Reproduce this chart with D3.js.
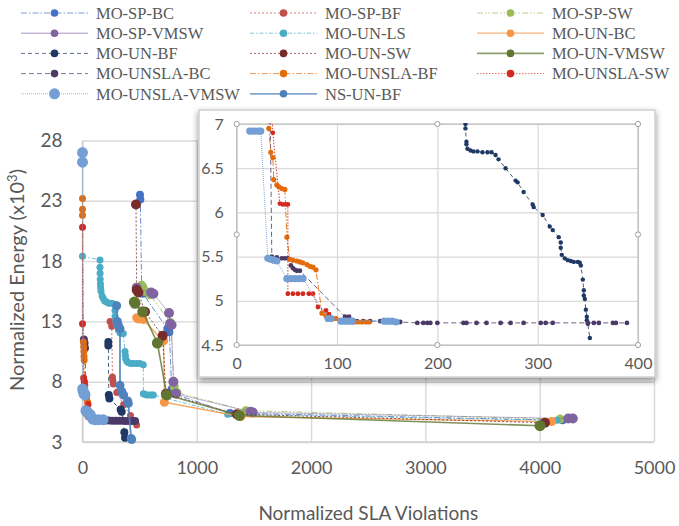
<!DOCTYPE html>
<html>
<head>
<meta charset="utf-8">
<script src="https://cdn.jsdelivr.net/npm/d3@7"></script>
<style>
  body { margin: 0; background: #fff; }
  svg { display: block; }
</style>
</head>
<body>
<svg id="chart" width="679" height="526"></svg>
<script>
// ---------- data: [normalized SLA violations, normalized energy (x10^3)] ----------
const seriesNames = [
  "MO-SP-BC", "MO-SP-BF", "MO-SP-SW",
  "MO-SP-VMSW", "MO-UN-LS", "MO-UN-BC",
  "MO-UN-BF", "MO-UN-SW", "MO-UN-VMSW",
  "MO-UNSLA-BC", "MO-UNSLA-BF", "MO-UNSLA-SW",
  "MO-UNSLA-VMSW", "NS-UN-BF"
];

const MO_SP_BC = [[503,23.5],[506,23.1],[518,15.6],[528,15.3],[742,12.4],[760,12.1],[780,7.4],[800,7.0],[1290,5.4],[4200,4.8]];
const MO_SP_BF = [[241,13.0],[256,12.6],[262,8.4],[265,8.1],[270,7.8],[300,7.1],[360,6.1],[420,5.2],[474,4.4]];
const MO_SP_SW = [[518,16.0],[530,15.8],[547,15.5],[590,15.2],[770,12.9],[803,7.6],[825,7.1],[1430,5.6],[4178,4.9]];
const MO_SP_VMSW = [[474,15.8],[600,15.4],[620,15.3],[757,13.7],[766,12.8],[779,12.7],[795,8.0],[818,7.0],[1470,5.5],[1490,5.45],[4250,4.95],[4290,4.95]];
const MO_UN_LS = [[0,18.4],[153,18.1],[153,17.5],[154,17.0],[155,16.5],[157,16.1],[159,15.8],[162,15.5],[172,15.1],[182,14.9],[195,14.7],[211,14.6],[230,14.5],[255,14.5],[275,14.45],[285,14.4],[284,13.9],[285,13.4],[292,13.0],[299,12.7],[313,12.3],[328,12.05],[345,12.0],[357,12.0],[372,10.5],[375,10.2],[378,9.9],[388,9.7],[400,9.6],[420,9.5],[445,9.5],[475,9.5],[503,9.5],[532,9.4],[532,7.0],[545,6.95],[560,6.9],[585,6.9],[605,6.9],[620,6.9],[1270,5.3],[4150,4.8]];
const MO_UN_BC = [[474,13.3],[490,13.2],[532,13.15],[693,11.5],[710,11.4],[716,6.3],[1385,5.1],[4105,4.7]];
const MO_UN_BF = [[226,11.3],[226,11.0],[230,6.9],[235,6.6],[334,5.7],[343,5.5],[366,3.8],[372,3.35]];
const MO_UN_SW = [[468,22.7],[474,15.6],[489,15.4],[547,13.8],[701,11.8],[730,7.0],[1350,5.3],[4046,4.6]];
const MO_UN_VMSW = [[454,14.6],[460,14.5],[527,13.8],[655,11.2],[737,6.9],[1372,5.2],[4003,4.35]];
const MO_UNSLA_BC = [[12,11.5],[18,11.2],[22,10.8],[35,5.5],[60,5.4],[110,4.82],[180,4.8],[200,4.78],[230,4.78],[260,4.77],[290,4.77],[320,4.76],[350,4.76],[380,4.75],[410,4.75],[435,4.75],[460,4.75]];
const MO_UNSLA_BF = [[0,23.2],[0,22.3],[0,21.8],[8,11.3],[10,10.9],[12,10.5],[13,10.1],[15,9.8],[18,8.0],[25,7.0],[35,6.6],[45,6.3],[55,5.5],[80,5.35],[90,4.8],[130,4.75]];
const MO_UNSLA_SW = [[0,20.8],[0,12.8],[10,8.3],[15,8.0],[20,7.7],[35,7.0],[48,6.1],[52,5.1],[80,5.08],[95,4.85]];
const MO_UNSLA_VMSW = [[0,27.0],[0,26.2],[2,7.4],[6,7.2],[12,7.0],[22,6.9],[30,5.6],[38,5.5],[45,5.45],[55,5.3],[68,5.25],[90,4.9],[110,4.85],[140,4.85],[180,4.85]];
const NS_UN_BF = [[299,14.3],[305,13.0],[313,12.7],[328,12.4],[328,7.7],[343,7.2],[360,6.9],[395,6.4],[401,6.2],[425,3.3],[430,3.2]];

const seriesValues = [
  MO_SP_BC, MO_SP_BF, MO_SP_SW,
  MO_SP_VMSW, MO_UN_LS, MO_UN_BC,
  MO_UN_BF, MO_UN_SW, MO_UN_VMSW,
  MO_UNSLA_BC, MO_UNSLA_BF, MO_UNSLA_SW,
  MO_UNSLA_VMSW, NS_UN_BF
];

// close-up of the low-violation front (0-400, 4.5-7)
const insetNames = ["MO-UN-BF", "MO-UNSLA-BC", "MO-UNSLA-BF", "MO-UNSLA-SW", "MO-UNSLA-VMSW"];
const INSET_UN_BF = [[228,7.3],[228,7.0],[228,6.95],[229,6.8],[229,6.77],[230,6.72],[233,6.7],[236,6.69],[240,6.69],[245,6.68],[250,6.68],[254,6.68],[258,6.65],[261,6.6],[268,6.5],[278,6.36],[280,6.34],[286,6.23],[295,6.09],[296,6.06],[305,5.97],[312,5.84],[315,5.8],[321,5.72],[323,5.66],[323,5.6],[324,5.52],[327,5.48],[330,5.46],[333,5.45],[336,5.44],[340,5.44],[342,5.43],[343,5.4],[345,5.24],[346,5.12],[346,5.06],[347,5.02],[348,4.9],[349,4.82],[349,4.78],[350,4.74],[352,4.58]];
const INSET_UNSLA_BC = [[33,7.5],[35,5.5],[40,5.49],[45,5.48],[48,5.48],[51,5.48],[54,5.4],[56,5.37],[58,5.35],[60,5.34],[63,5.34],[108,4.82],[112,4.82],[116,4.78],[120,4.77],[126,4.77],[133,4.77],[143,4.77],[163,4.76],[180,4.75],[186,4.75],[190,4.75],[193,4.75],[200,4.75],[226,4.75],[229,4.75],[239,4.75],[249,4.75],[263,4.75],[273,4.75],[286,4.75],[303,4.75],[308,4.75],[315,4.75],[350,4.75],[356,4.75],[361,4.75],[375,4.75],[378,4.75],[389,4.75]];
const INSET_UNSLA_BF = [[32,7.5],[32,6.95],[34,6.68],[36,6.62],[37,6.37],[40,6.31],[42,6.29],[45,6.27],[48,6.26],[50,5.72],[53,5.47],[56,5.46],[60,5.45],[63,5.44],[66,5.43],[70,5.41],[73,5.39],[76,5.38],[79,5.35],[85,4.86],[89,4.83],[92,4.8],[96,4.8],[99,4.8],[117,4.76],[121,4.76],[125,4.76],[129,4.76],[132,4.76]];
const INSET_UNSLA_SW = [[34,7.5],[36,6.9],[43,6.1],[46,6.09],[49,6.09],[51,6.09],[51,5.08],[56,5.08],[61,5.08],[66,5.08],[72,5.08],[76,5.08],[81,4.93],[89,4.89],[92,4.85]];
const INSET_UNSLA_VMSW = [[13,6.92],[16,6.92],[19,6.92],[22,6.92],[24,6.92],[31,5.48],[34,5.47],[37,5.46],[40,5.45],[50,5.25],[54,5.25],[58,5.25],[62,5.25],[66,5.25],[91,4.8],[94,4.8],[104,4.77],[108,4.77],[112,4.77],[115,4.77],[147,4.77],[151,4.77],[155,4.77],[159,4.76]];
const insetValues = [INSET_UN_BF, INSET_UNSLA_BC, INSET_UNSLA_BF, INSET_UNSLA_SW, INSET_UNSLA_VMSW];

const xTicks = [0, 1000, 2000, 3000, 4000, 5000];
const yTicks = [3, 8, 13, 18, 23, 28];
const insetXTicks = [0, 100, 200, 300, 400];
const insetYTicks = [4.5, 5, 5.5, 6, 6.5, 7];

// ---------- appearance ----------
const styles = {
  "MO-SP-BC":      { color: "#4472c4", dash: "6,2,1.5,2",      width: 1,   r: 4,   op: 0.8 },
  "MO-SP-BF":      { color: "#c0504d", dash: "2,2",            width: 1,   r: 3.5, op: 0.8 },
  "MO-SP-SW":      { color: "#9bbb59", dash: "6,2,1.5,2,1.5,2",width: 1,   r: 4.5, op: 0.8 },
  "MO-SP-VMSW":    { color: "#8064a2", dash: null,             width: 0.8, r: 5,   op: 0.6 },
  "MO-UN-LS":      { color: "#4bacc6", dash: "4,2,1.5,2",      width: 1,   r: 3.5, op: 0.8 },
  "MO-UN-BC":      { color: "#f79646", dash: null,             width: 1.2, r: 4.5, op: 0.9 },
  "MO-UN-BF":      { color: "#1f3864", dash: "4,3",            width: 1,   r: 4,   op: 0.8 },
  "MO-UN-SW":      { color: "#772c2a", dash: "2,2",            width: 1,   r: 5,   op: 0.8 },
  "MO-UN-VMSW":    { color: "#5f7530", dash: null,             width: 1.6, r: 5.5, op: 0.8 },
  "MO-UNSLA-BC":   { color: "#4b3a66", dash: "5,3",            width: 1,   r: 4,   op: 0.8 },
  "MO-UNSLA-BF":   { color: "#e46c0a", dash: "6,2,1.5,2",      width: 1,   r: 3.5, op: 0.9 },
  "MO-UNSLA-SW":   { color: "#d42a1e", dash: "1.5,1.5",        width: 1,   r: 3.5, op: 0.9 },
  "MO-UNSLA-VMSW": { color: "#739fd4", dash: "1,1",            width: 1,   r: 5.5, op: 0.9 },
  "NS-UN-BF":      { color: "#4f81bd", dash: null,             width: 1.8, r: 4.5, op: 0.9 }
};
const insetMarkerR = {
  "MO-UN-BF": 2.2, "MO-UNSLA-BC": 2.4, "MO-UNSLA-BF": 2.6, "MO-UNSLA-SW": 2.4, "MO-UNSLA-VMSW": 3.6
};

const textGray = "#595959";
const gridGray = "#d9d9d9";
const sansFont = "Lato, 'Open Sans', sans-serif";
const serifFont = "'Liberation Serif', 'DejaVu Serif', serif";
const plainNumber = d => String(d);

const svg = d3.select("#chart");
const defs = svg.append("defs");

// ---------- main chart ----------
const plot = { left: 82.5, right: 654, top: 140.5, bottom: 442 };
const x = d3.scaleLinear().domain([0, 5000]).range([plot.left, plot.right]);
const y = d3.scaleLinear().domain([3, 28]).range([plot.bottom, plot.top]);

// grid
svg.append("g")
  .attr("transform", `translate(${plot.left},0)`)
  .call(d3.axisLeft(y).tickValues(yTicks).tickSize(-(plot.right - plot.left)).tickFormat(""))
  .call(g => g.select(".domain").remove())
  .call(g => g.selectAll("line").attr("stroke", gridGray).attr("stroke-width", 1.4));
svg.append("g")
  .attr("transform", `translate(0,${plot.bottom})`)
  .call(d3.axisBottom(x).tickValues(xTicks).tickSize(-(plot.bottom - plot.top)).tickFormat(""))
  .call(g => g.select(".domain").remove())
  .call(g => g.selectAll("line").attr("stroke", gridGray).attr("stroke-width", 1.4));

// axis lines
svg.append("line").attr("x1", plot.left).attr("x2", plot.left).attr("y1", plot.top).attr("y2", plot.bottom)
  .attr("stroke", "#cfcfcf").attr("stroke-width", 1.4);
svg.append("line").attr("x1", plot.left).attr("x2", plot.right).attr("y1", plot.bottom).attr("y2", plot.bottom)
  .attr("stroke", "#cfcfcf").attr("stroke-width", 1.4);

// tick labels
svg.append("g")
  .attr("transform", `translate(${plot.left},0)`)
  .call(d3.axisLeft(y).tickValues(yTicks).tickSize(0).tickPadding(20).tickFormat(plainNumber))
  .call(g => g.select(".domain").remove())
  .call(g => g.selectAll("text").attr("fill", textGray).attr("font-size", 19).attr("font-family", sansFont));
svg.append("g")
  .attr("transform", `translate(0,${plot.bottom})`)
  .call(d3.axisBottom(x).tickValues(xTicks).tickSize(0).tickPadding(19).tickFormat(plainNumber))
  .call(g => g.select(".domain").remove())
  .call(g => g.selectAll("text").attr("fill", textGray).attr("font-size", 18).attr("font-family", sansFont));

// axis titles
const yTitle = svg.append("text")
  .attr("transform", "translate(24,280) rotate(-90)")
  .attr("text-anchor", "middle")
  .attr("fill", textGray).attr("font-size", 20).attr("font-family", sansFont);
yTitle.append("tspan").text("Normalized Energy (x10");
yTitle.append("tspan").attr("dy", -7).attr("font-size", 13).text("3");
yTitle.append("tspan").attr("dy", 7).text(")");

svg.append("text")
  .attr("x", (plot.left + plot.right) / 2).attr("y", 520)
  .attr("text-anchor", "middle")
  .attr("fill", textGray).attr("font-size", 19).attr("font-family", sansFont)
  .text("Normalized SLA Violations");

// series
const line = d3.line().x(d => x(d[0])).y(d => y(d[1]));
const mainG = svg.append("g");
seriesNames.forEach((name, i) => {
  const s = styles[name];
  const g = mainG.append("g");
  g.append("path").datum(seriesValues[i])
    .attr("d", line).attr("fill", "none")
    .attr("stroke", s.color).attr("stroke-width", s.width).attr("stroke-opacity", s.op)
    .attr("stroke-dasharray", s.dash);
  g.selectAll("circle").data(seriesValues[i]).join("circle")
    .attr("cx", d => x(d[0])).attr("cy", d => y(d[1])).attr("r", s.r)
    .attr("fill", s.color);
});

// ---------- legend ----------
const legendCols = [21, 250, 477];
const legendRow0 = 13, legendRowStep = 20.2;
const legend = svg.append("g");
seriesNames.forEach((name, i) => {
  const s = styles[name];
  const cx = legendCols[i % 3];
  const cy = legendRow0 + Math.floor(i / 3) * legendRowStep;
  const item = legend.append("g").attr("transform", `translate(${cx},${cy})`);
  item.append("line").attr("x1", 0).attr("x2", 67).attr("y1", 0).attr("y2", 0)
    .attr("stroke", s.color).attr("stroke-width", Math.max(1, s.width)).attr("stroke-opacity", 0.7)
    .attr("stroke-dasharray", s.dash);
  item.append("circle").attr("cx", 33.5).attr("cy", 0)
    .attr("r", name === "MO-UNSLA-VMSW" ? 5.5 : 3.8).attr("fill", s.color);
  item.append("text")
    .attr("x", 75)
    .attr("dy", "0.35em")
    .attr("fill", textGray).attr("font-size", 16.5).attr("font-family", serifFont)
    .text(name);
});

// ---------- inset ----------
const box = { left: 199, right: 655, top: 110, bottom: 377 };
const shadow = defs.append("filter").attr("id", "boxShadow")
  .attr("x", "-5%").attr("y", "-5%").attr("width", "110%").attr("height", "115%");
shadow.append("feDropShadow").attr("dx", 0).attr("dy", 3).attr("stdDeviation", 3)
  .attr("flood-color", "#000").attr("flood-opacity", 0.45);
svg.append("rect")
  .attr("x", box.left).attr("y", box.top)
  .attr("width", box.right - box.left).attr("height", box.bottom - box.top)
  .attr("fill", "#fff").attr("stroke", "#d0d0d0").attr("stroke-width", 1.5)
  .attr("filter", "url(#boxShadow)");

const ip = { left: 236.7, right: 638, top: 124, bottom: 345 };
const ix = d3.scaleLinear().domain([0, 400]).range([ip.left, ip.right]);
const iy = d3.scaleLinear().domain([4.5, 7]).range([ip.bottom, ip.top]);

svg.append("g")
  .attr("transform", `translate(${ip.left},0)`)
  .call(d3.axisLeft(iy).tickValues(insetYTicks).tickSize(-(ip.right - ip.left)).tickFormat(""))
  .call(g => g.select(".domain").remove())
  .call(g => g.selectAll("line").attr("stroke", gridGray).attr("stroke-width", 1.2));
svg.append("g")
  .attr("transform", `translate(0,${ip.bottom})`)
  .call(d3.axisBottom(ix).tickValues(insetXTicks).tickSize(-(ip.bottom - ip.top)).tickFormat(""))
  .call(g => g.select(".domain").remove())
  .call(g => g.selectAll("line").attr("stroke", gridGray).attr("stroke-width", 1.2));

svg.append("rect")
  .attr("x", ip.left).attr("y", ip.top)
  .attr("width", ip.right - ip.left).attr("height", ip.bottom - ip.top)
  .attr("fill", "none").attr("stroke", "#b4b4b4").attr("stroke-width", 1);

svg.append("g")
  .attr("transform", `translate(${ip.left},0)`)
  .call(d3.axisLeft(iy).tickValues(insetYTicks).tickSize(0).tickPadding(13).tickFormat(plainNumber))
  .call(g => g.select(".domain").remove())
  .call(g => g.selectAll("text").attr("fill", textGray).attr("font-size", 16).attr("font-family", sansFont));
svg.append("g")
  .attr("transform", `translate(0,${ip.bottom})`)
  .call(d3.axisBottom(ix).tickValues(insetXTicks).tickSize(0).tickPadding(13).tickFormat(plainNumber))
  .call(g => g.select(".domain").remove())
  .call(g => g.selectAll("text").attr("fill", textGray).attr("font-size", 16).attr("font-family", sansFont));

defs.append("clipPath").attr("id", "insetClip")
  .append("rect").attr("x", ip.left).attr("y", ip.top - 1)
  .attr("width", ip.right - ip.left).attr("height", ip.bottom - ip.top + 1);

const iline = d3.line().x(d => ix(d[0])).y(d => iy(d[1]));
const insetG = svg.append("g").attr("clip-path", "url(#insetClip)");
insetNames.forEach((name, i) => {
  const s = styles[name];
  const g = insetG.append("g");
  g.append("path").datum(insetValues[i])
    .attr("d", iline).attr("fill", "none")
    .attr("stroke", s.color).attr("stroke-width", 1).attr("stroke-opacity", s.op)
    .attr("stroke-dasharray", s.dash);
  g.selectAll("circle").data(insetValues[i]).join("circle")
    .attr("cx", d => ix(d[0])).attr("cy", d => iy(d[1])).attr("r", insetMarkerR[name])
    .attr("fill", s.color);
});

// selection handles around the inset plot area
const handleX = [ip.left, (ip.left + ip.right) / 2, ip.right];
const handleY = [ip.top, (ip.top + ip.bottom) / 2, ip.bottom];
const handles = [];
handleX.forEach((hx, a) => handleY.forEach((hy, b) => { if (!(a === 1 && b === 1)) handles.push([hx, hy]); }));
svg.append("g").selectAll("circle").data(handles).join("circle")
  .attr("cx", d => d[0]).attr("cy", d => d[1]).attr("r", 2.6)
  .attr("fill", "#fff").attr("stroke", "#a0a0a0").attr("stroke-width", 1);
</script>
</body>
</html>
